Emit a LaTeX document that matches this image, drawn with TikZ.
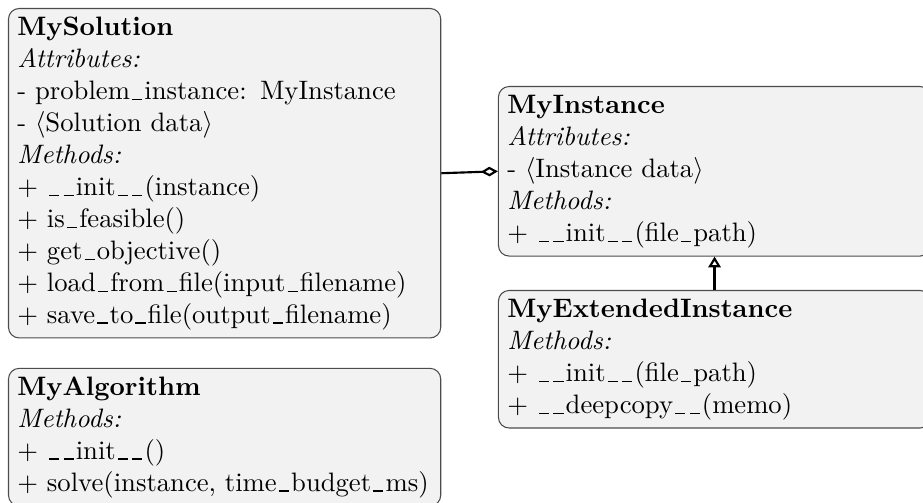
\documentclass[tikz,border=0pt]{standalone}
\usetikzlibrary{arrows.meta}

% underscore rule, about half an em wide
\newcommand{\usc}{\leavevmode\kern.08em\vbox{\hrule width.38em}\kern.08em}

\tikzset{
  classbox/.style={draw=black!70, fill=gray!10, rounded corners=4pt, anchor=north west,
    align=left, text width=155.5pt, inner xsep=3.33pt, inner ysep=1.8pt,
    execute at begin node=\strut, execute at end node=\strut},
  conn/.style={thick}
}

\begin{document}
\begin{tikzpicture}
    \useasboundingbox (0,0) rectangle (12.17,-6.62);

    \node[classbox] (sol) at (0.105,-0.105) {\textbf{MySolution}\\
      \textit{Attributes:}\\
      - problem\usc instance: MyInstance\\
      - $\langle$Solution data$\rangle$\\
      \textit{Methods:}\\
      + \usc\usc init\usc\usc(instance)\\
      + is\usc feasible()\\
      + get\usc objective()\\
      + load\usc from\usc file(input\usc filename)\\
      + save\usc to\usc file(output\usc filename)};
    \node[classbox] (alg) at (0.105,-4.85) {\textbf{MyAlgorithm}\\
      \textit{Methods:}\\
      + \usc\usc init\usc\usc()\\
      + solve(instance, time\usc budget\usc ms)};
    \node[classbox] (inst) at (6.565,-1.134) {\textbf{MyInstance}\\
      \textit{Attributes:}\\
      - $\langle$Instance data$\rangle$\\
      \textit{Methods:}\\
      + \usc\usc init\usc\usc(file\usc path)};
    \node[classbox] (ext) at (6.565,-3.823) {\textbf{MyExtendedInstance}\\
      \textit{Methods:}\\
      + \usc\usc init\usc\usc(file\usc path)\\
      + \usc\usc deepcopy\usc\usc(memo)};

    \draw[conn,-{Diamond[open,length=6.4pt,width=3.6pt]}] (sol.east)--(inst.west);
    \draw[conn,-{Triangle[open,length=4pt,width=4.6pt]}] (ext.north)--(inst.south);
\end{tikzpicture}
\end{document}
